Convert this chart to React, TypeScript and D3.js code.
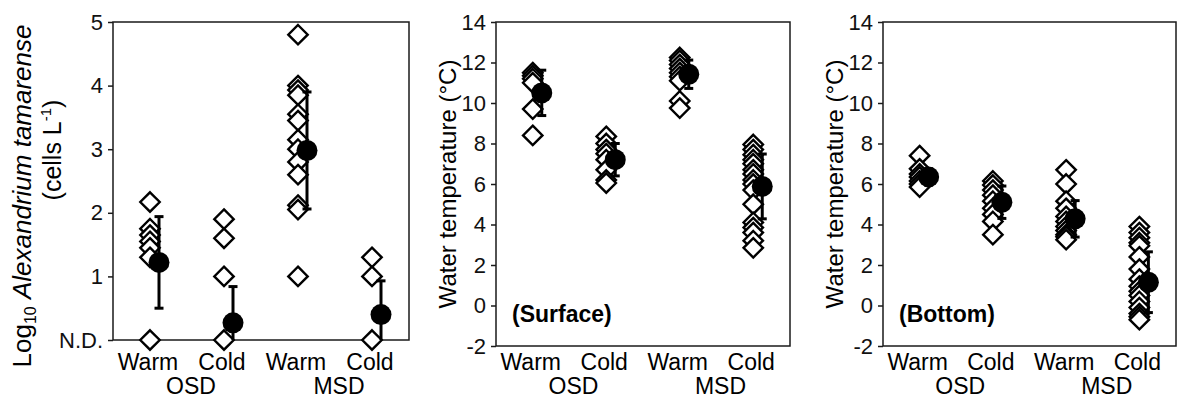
import React, { useEffect, useRef } from 'react';
import * as d3 from 'd3';

const categories = ['Warm', 'Cold', 'Warm', 'Cold'];
const groups = ['OSD', 'MSD'];

// log10 cell density, 0 = not detected
const cellPoints = [
  [2.17, 1.75, 1.65, 1.55, 1.45, 1.3, 0],
  [1.9, 1.6, 1.0, 0],
  [4.8, 4.0, 3.93, 3.85, 3.55, 3.45, 3.15, 3.0, 2.8, 2.6, 2.12, 2.05, 1.0],
  [1.3, 1.0, 0],
];
const cellMeans = [1.22, 0.27, 2.98, 0.4];
const cellErr = [0.72, 0.57, 0.92, 0.53];

// surface water temperature
const surfacePoints = [
  [11.5, 11.35, 11.2, 11.0, 9.7, 8.4],
  [8.35, 8.0, 7.7, 7.5, 7.2, 6.7, 6.2, 6.05],
  [12.25, 12.1, 11.9, 11.7, 11.5, 11.3, 11.1, 10.1, 9.75],
  [7.95, 7.7, 7.45, 7.2, 7.0, 6.7, 6.5, 6.2, 6.0, 5.7, 5.0, 4.1, 3.85, 3.6, 3.2, 2.85],
];
const surfaceMeans = [10.5, 7.2, 11.42, 5.88];
const surfaceErr = [1.12, 0.8, 0.7, 1.6];

// bottom water temperature
const bottomPoints = [
  [7.4, 6.75, 6.5, 6.35, 6.15, 6.0, 5.85],
  [6.15, 5.95, 5.7, 5.45, 5.15, 4.8, 4.5, 4.15, 3.5],
  [6.7, 6.0, 5.15, 4.8, 4.4, 4.15, 3.9, 3.7, 3.5, 3.4, 3.25],
  [3.9, 3.6, 3.35, 3.1, 2.95, 2.4, 1.8, 1.3, 0.95, 0.7, 0.5, 0.2, -0.1, -0.4, -0.55, -0.7],
];
const bottomMeans = [6.35, 5.1, 4.28, 1.15];
const bottomErr = [0.4, 0.8, 0.9, 1.5];

const cellTicks = [0, 1, 2, 3, 4, 5];
const cellTickLabels = ['N.D.', '1', '2', '3', '4', '5'];
const tempTicks = [-2, 0, 2, 4, 6, 8, 10, 12, 14];
const tempTickLabels = ['-2', '0', '2', '4', '6', '8', '10', '12', '14'];

const FONT = '"Liberation Sans", Arial, Helvetica, sans-serif';

const panels = [
  {
    left: 113, right: 409, top: 22, bottom: 340, domain: [0, 5],
    ticks: cellTicks, tickLabels: cellTickLabels,
    points: cellPoints, means: cellMeans, err: cellErr, tag: null, labelX: 0,
  },
  {
    left: 496, right: 790, top: 22, bottom: 346, domain: [-2, 14],
    ticks: tempTicks, tickLabels: tempTickLabels,
    points: surfacePoints, means: surfaceMeans, err: surfaceErr, tag: '(Surface)', labelX: 456,
  },
  {
    left: 883, right: 1176, top: 22, bottom: 346, domain: [-2, 14],
    ticks: tempTicks, tickLabels: tempTickLabels,
    points: bottomPoints, means: bottomMeans, err: bottomErr, tag: '(Bottom)', labelX: 843,
  },
];

const App = () => {
  const svgRef = useRef<SVGSVGElement>(null);

  useEffect(() => {
    const svg = d3.select(svgRef.current);
    svg.selectAll('*').remove();

    const diamond = d3.symbol().type(d3.symbolDiamond2 || d3.symbolDiamond).size(240);

    panels.forEach((p, pi) => {
      const y = d3.scaleLinear().domain(p.domain).range([p.bottom, p.top]);
      const x = d3.scalePoint<number>().domain(d3.range(categories.length)).range([p.left, p.right]).padding(0.5);
      const g = svg.append('g');

      // frame
      g.append('rect')
        .attr('x', p.left).attr('y', p.top)
        .attr('width', p.right - p.left).attr('height', p.bottom - p.top)
        .attr('fill', 'none').attr('stroke', '#1a1a1a').attr('stroke-width', 1.5);

      // y axis
      const axis = g.append('g')
        .attr('transform', `translate(${p.left},0)`)
        .call(d3.axisLeft(y).tickValues(p.ticks).tickFormat((d, i) => p.tickLabels[i]).tickSize(5).tickPadding(5));
      axis.select('.domain').remove();
      axis.selectAll('line').attr('stroke', '#1a1a1a').attr('stroke-width', 1.5);
      axis.selectAll('text').attr('font-size', 22).attr('font-family', FONT).attr('fill', '#111');

      // category + group labels
      categories.forEach((c, i) => {
        g.append('text')
          .attr('x', x(i)! - 2).attr('y', 370)
          .attr('text-anchor', 'middle')
          .attr('font-size', 23).attr('font-family', FONT)
          .text(c);
      });
      groups.forEach((gr, gi) => {
        g.append('text')
          .attr('x', (x(gi * 2)! + x(gi * 2 + 1)!) / 2 + 4).attr('y', 394)
          .attr('text-anchor', 'middle')
          .attr('font-size', 23).attr('font-family', FONT)
          .text(gr);
      });

      // individual samples
      p.points.forEach((vals, i) => {
        const sorted = [...vals].sort((a, b) => b - a);
        g.append('g').selectAll('path')
          .data(sorted)
          .enter()
          .append('path')
          .attr('d', diamond)
          .attr('transform', d => `translate(${x(i)},${y(d)})`)
          .attr('fill', '#fff')
          .attr('stroke', '#000')
          .attr('stroke-width', 2.4);
      });

      // means with error bars
      const [lo] = p.domain;
      p.means.forEach((m, i) => {
        const cx = x(i)! + 9;
        const top = m + p.err[i];
        const low = Math.max(lo, m - p.err[i]);
        g.append('line')
          .attr('x1', cx).attr('x2', cx)
          .attr('y1', y(low)).attr('y2', y(top))
          .attr('stroke', '#000').attr('stroke-width', 3);
        g.append('line')
          .attr('x1', cx - 4.5).attr('x2', cx + 4.5)
          .attr('y1', y(top)).attr('y2', y(top))
          .attr('stroke', '#000').attr('stroke-width', 3);
        if (m - p.err[i] > lo) {
          g.append('line')
            .attr('x1', cx - 4.5).attr('x2', cx + 4.5)
            .attr('y1', y(low)).attr('y2', y(low))
            .attr('stroke', '#000').attr('stroke-width', 3);
        }
        g.append('circle')
          .attr('cx', cx).attr('cy', y(m)).attr('r', 10.5)
          .attr('fill', '#000');
      });

      // panel tag
      if (p.tag) {
        g.append('text')
          .attr('x', p.left + 16).attr('y', 322)
          .attr('font-size', 23).attr('font-weight', 'bold').attr('font-family', FONT)
          .text(p.tag);
      }

      // y label
      if (pi === 0) {
        const l1 = g.append('text')
          .attr('transform', 'translate(31,196) rotate(-90)')
          .attr('text-anchor', 'middle')
          .attr('font-size', 26).attr('font-family', FONT);
        l1.append('tspan').text('Log');
        l1.append('tspan').attr('font-size', 16).attr('dy', 5).text('10');
        l1.append('tspan').attr('dy', -5).text(' ');
        l1.append('tspan').attr('font-style', 'italic').text('Alexandrium tamarense');
        const l2 = g.append('text')
          .attr('transform', 'translate(61,150) rotate(-90)')
          .attr('text-anchor', 'middle')
          .attr('font-size', 25).attr('font-family', FONT);
        l2.append('tspan').text('(cells L');
        l2.append('tspan').attr('font-size', 15).attr('dy', -10).text('-1');
        l2.append('tspan').attr('dy', 10).text(')');
      } else {
        g.append('text')
          .attr('transform', `translate(${p.labelX},${(p.top + p.bottom) / 2}) rotate(-90)`)
          .attr('text-anchor', 'middle')
          .attr('font-size', 24).attr('font-family', FONT)
          .text('Water temperature (°C)');
      }
    });
  }, []);

  return (
    <svg
      ref={svgRef}
      width={1179}
      height={400}
      style={{ position: 'absolute', left: 0, top: 0, background: '#fff' }}
    />
  );
};

export default App;
